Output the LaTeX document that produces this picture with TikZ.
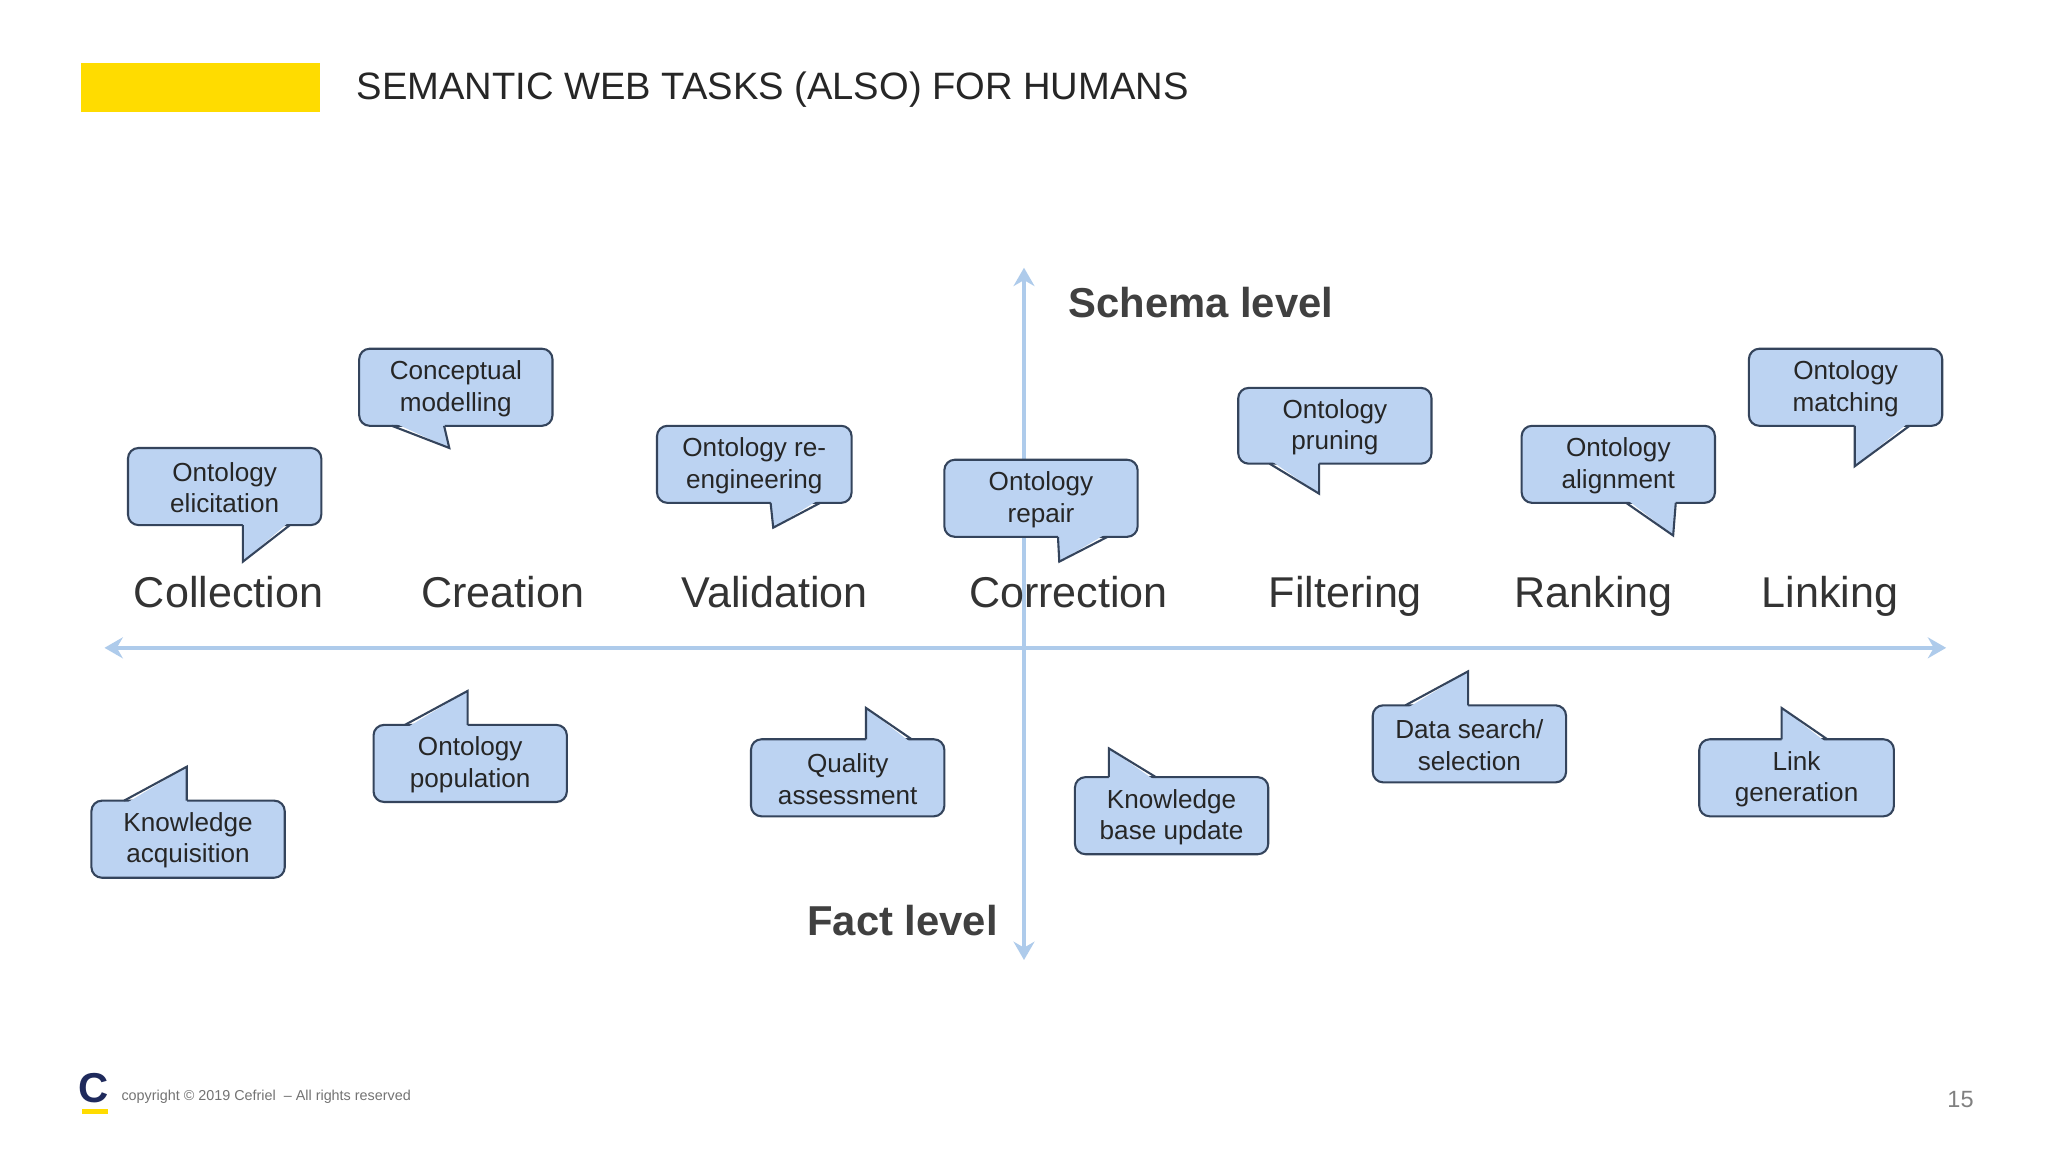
\documentclass[tikz,border=0pt]{standalone}
\usepackage{fontspec}
\setmainfont{Liberation Sans}
\usetikzlibrary{arrows.meta,calc}
\definecolor{cfill}{HTML}{BCD3F2}
\definecolor{cdraw}{HTML}{34445C}
\definecolor{axisc}{HTML}{AECBEB}
\definecolor{ylw}{HTML}{FFDC00}
\definecolor{navy}{HTML}{1F2A5C}
\tikzset{
  boxst/.style={fill=cfill,draw=cdraw,line width=0.8pt,rounded corners=4pt},
  tailfill/.style={fill=cfill},
  tailline/.style={draw=cdraw,line width=0.8pt,line join=miter},
  ctext/.style={align=center,font=\fontsize{10}{12}\selectfont,text=black!85},
  cat/.style={font=\fontsize{16.5}{20}\selectfont,text=black!80,anchor=base},
  axisline/.style={draw=axisc,line width=1.5pt,{Stealth[length=7pt,width=8pt]}-{Stealth[length=7pt,width=8pt]}},
  lvl/.style={font=\bfseries\fontsize{16}{19}\selectfont,text=black!75,anchor=base west}
}
% bottom tail
\newcommand\calloutdown[9]{%
  \draw[boxst] (#2,#3) rectangle (#4,#5);
  \fill[tailfill] (#6,#5-3) -- (#8) -- (#7,#5-3) -- cycle;
  \draw[tailline] (#6,#5) -- (#8) -- (#7,#5);
  \node[ctext] (#1) at ({(#2+#4)/2},{(#3+#5)/2+1}) {#9};}
% top tail
\newcommand\calloutup[9]{%
  \draw[boxst] (#2,#3) rectangle (#4,#5);
  \fill[tailfill] (#6,#3+3) -- (#8) -- (#7,#3+3) -- cycle;
  \draw[tailline] (#6,#3) -- (#8) -- (#7,#3);
  \node[ctext] (#1) at ({(#2+#4)/2},{(#3+#5)/2+1}) {#9};}
\begin{document}
\begin{tikzpicture}[x=0.5pt,y=-0.5pt]
\useasboundingbox[fill=white] (0,0) rectangle (1568,882);
% header
\fill[ylw] (62,48) rectangle (245,86);
\node[anchor=west,font=\fontsize{14.6}{18}\selectfont,text=black!85] (title) at (266,69) {SEMANTIC WEB TASKS (ALSO) FOR HUMANS};
% axes
\coordinate (xl) at (80,496); \coordinate (xr) at (1490,496);
\coordinate (yt) at (784,205); \coordinate (yb) at (784,735);
\draw[axisline] (xl) -- (xr);
\draw[axisline] (yb) -- (yt);
\node[lvl] (schema) at (811,243) {Schema level};
\node[lvl] (fact) at (611,716) {Fact level};
% categories
\foreach \n/\x/\t in {c1/175/Collection,c2/385/Creation,c3/593/Validation,c4/818/Correction,c5/1030/Filtering,c6/1220/Ranking,c7/1401/Linking}
  \node[cat] (\n) at (\x,465) {\t};
% top callouts
\calloutdown{t1}{98}{343}{246}{402}{186}{222}{186,430}{Ontology\\elicitation}
\calloutdown{t2}{275}{267}{423}{326}{300}{340}{344,343}{Conceptual\\modelling}
\calloutdown{t3}{503}{326}{652}{385}{590}{628}{592,404}{Ontology re-\\engineering}
\calloutdown{t4}{723}{352}{871}{411}{810}{848}{811,430}{Ontology\\repair}
\calloutdown{t5}{948}{297}{1096}{355}{972}{1010}{1010,378}{Ontology\\pruning}
\calloutdown{t6}{1165}{326}{1313}{385}{1245}{1283}{1281,410}{Ontology\\alignment}
\calloutdown{t7}{1339}{267}{1487}{326}{1420}{1462}{1420,357}{Ontology\\matching}
% bottom callouts
\calloutup{b1}{70}{613}{218}{672}{95}{143}{143,587}{Knowledge\\acquisition}
\calloutup{b2}{286}{555}{434}{614}{310}{358}{358,529}{Ontology\\population}
\calloutup{b3}{575}{566}{723}{625}{663}{698}{663,542}{Quality\\assessment}
\calloutup{b4}{823}{595}{971}{654}{849}{885}{849,573}{Knowledge\\base update}
\calloutup{b5}{1051}{540}{1199}{599}{1076}{1124}{1124,514}{Data search/\\selection}
\calloutup{b6}{1301}{566}{1450}{625}{1364}{1399}{1364,542}{Link\\generation}
% footer
\node[font=\bfseries\fontsize{16}{18}\selectfont,text=navy] (logo) at (72,833) {C};
\fill[ylw] (63,849) rectangle (83,853);
\node[anchor=west,font=\fontsize{5.5}{7}\selectfont,text=black!55] (copy) at (86,840) {copyright © 2019 Cefriel \ – All rights reserved};
\node[font=\fontsize{9}{11}\selectfont,text=black!50] (pg) at (1501,842) {15};
\end{tikzpicture}
\end{document}
